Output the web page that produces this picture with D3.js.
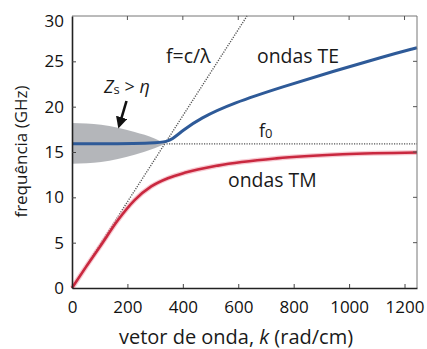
<!DOCTYPE html>
<html>
<head>
<meta charset="utf-8">
<script src="https://cdn.jsdelivr.net/npm/d3@7"></script>
<style>
  body { margin: 0; background: #fff; }
  text { font-family: "Open Sans", sans-serif; fill: #1a1a1a; }
</style>
</head>
<body>
<script>
// data
const xTicks = [0, 200, 400, 600, 800, 1000, 1200];
const yTicks = [0, 5, 10, 15, 20, 25, 30];
const f0 = 15.9;
const lightSlope = 0.0475;   // f = c/lambda, GHz per rad/cm
const teK = [0, 330, 362, 401, 461, 581, 761, 942, 1122, 1245];
const teF = [15.9, 15.9, 16.4, 17.4, 18.7, 20.4, 22.2, 23.9, 25.5, 26.5];
const tmK = [0, 50, 105, 166, 226, 286, 346, 406, 526, 738, 977, 1245];
const tmF = [0, 2.3, 4.75, 7.5, 9.7, 11.2, 12.1, 12.7, 13.5, 14.3, 14.75, 14.95];
const bandK = [0, 105, 226, 298, 338];
const bandHi = [18.2, 18.0, 17.2, 16.5, 15.95];
const bandLo = [13.7, 13.9, 14.7, 15.4, 15.9];

const W = 427, H = 349;
const m = {left: 72, top: 16, right: 10, bottom: 61};
const iw = W - m.left - m.right, ih = H - m.top - m.bottom;

const svg = d3.select("body").append("svg")
    .attr("width", W).attr("height", H);

const x = d3.scaleLinear().domain([0, 1245]).range([m.left, m.left + iw]);
const y = d3.scaleLinear().domain([0, 30]).range([m.top + ih, m.top]);

// gray band where Zs > eta
const band = bandK.map((k, i) => ({k: k, hi: bandHi[i], lo: bandLo[i]}));
svg.append("path")
    .datum(band)
    .attr("d", d3.area().curve(d3.curveMonotoneX)
        .x(d => x(d.k)).y0(d => y(d.lo)).y1(d => y(d.hi)))
    .style("fill", "#a7a9ae")
    .style("opacity", 0.85);

// light line f = c/lambda
const kTop = 30 / lightSlope;
svg.append("line")
    .attr("x1", x(0)).attr("y1", y(0))
    .attr("x2", x(kTop)).attr("y2", y(30))
    .style("stroke", "#555").style("stroke-width", 1.4)
    .style("stroke-dasharray", "1.2,1.3");

// f0 dotted
svg.append("line")
    .attr("x1", x(341)).attr("y1", y(f0))
    .attr("x2", x(1245)).attr("y2", y(f0))
    .style("stroke", "#555").style("stroke-width", 1.4)
    .style("stroke-dasharray", "1.2,1.3");

const line = d3.line().curve(d3.curveMonotoneX)
    .x(d => x(d[0])).y(d => y(d[1]));

// TM (red)
svg.append("path")
    .datum(tmK.map((k, i) => [k, tmF[i]]))
    .attr("d", line)
    .style("fill", "none").style("stroke", "#f2a5b3").style("stroke-width", 5).style("opacity", 0.6);
svg.append("path")
    .datum(tmK.map((k, i) => [k, tmF[i]]))
    .attr("d", line)
    .style("fill", "none").style("stroke", "#c9283f").style("stroke-width", 2.6);

// TE (blue)
svg.append("path")
    .datum(teK.map((k, i) => [k, teF[i]]))
    .attr("d", d3.line().curve(d3.curveBasis).x(d => x(d[0])).y(d => y(d[1])))
    .style("fill", "none").style("stroke", "#2e5a98").style("stroke-width", 3);

// axes frame
const tickLen = 4;
const frame = svg.append("g");
frame.append("line").attr("x1", x(0)).attr("x2", x(1245)).attr("y1", y(30)).attr("y2", y(30))
    .style("stroke", "#777").style("stroke-width", 1);
frame.append("line").attr("x1", x(1245)).attr("x2", x(1245)).attr("y1", y(0)).attr("y2", y(30))
    .style("stroke", "#777").style("stroke-width", 1);

const xAxis = svg.append("g")
    .attr("transform", `translate(0,${y(0)})`)
    .call(d3.axisBottom(x).tickValues(xTicks).tickFormat(d3.format("d"))
        .tickSizeInner(-tickLen).tickSizeOuter(0).tickPadding(13));
const yAxis = svg.append("g")
    .attr("transform", `translate(${x(0)},0)`)
    .call(d3.axisLeft(y).tickValues(yTicks).tickSizeInner(-tickLen).tickSizeOuter(0).tickPadding(8));
[xAxis, yAxis].forEach(g => {
    g.select(".domain").style("stroke", "#222").style("stroke-width", 1.6);
    g.selectAll(".tick line").style("stroke", "#444");
    g.selectAll("text").style("font-size", "17px").style("font-family", "'Open Sans', sans-serif").style("fill", "#111");
});
xAxis.selectAll(".tick").filter(d => d === 0).select("line").remove();
yAxis.selectAll(".tick").filter(d => d === 0 || d === 30).select("line").remove();
yAxis.selectAll(".tick").filter(d => d === 30).select("text").attr("dy", "0.62em");

// mirror ticks on top and right
svg.append("g").selectAll("line").data(xTicks.filter(d => d > 0))
    .join("line")
    .attr("x1", d => x(d)).attr("x2", d => x(d))
    .attr("y1", y(30)).attr("y2", y(30) + tickLen)
    .style("stroke", "#555");
svg.append("g").selectAll("line").data(yTicks.filter(d => d > 0 && d < 30))
    .join("line")
    .attr("x1", x(1245)).attr("x2", x(1245) - tickLen)
    .attr("y1", d => y(d)).attr("y2", d => y(d))
    .style("stroke", "#555");

// axis titles
svg.append("text")
    .attr("transform", `translate(27,${m.top + ih / 2 - 0.5}) rotate(-90)`)
    .attr("text-anchor", "middle")
    .style("font-size", "17px")
    .text("frequência (GHz)");

const xl = svg.append("text")
    .attr("x", 236).attr("y", 344)
    .attr("text-anchor", "middle")
    .style("font-size", "20px");
xl.append("tspan").text("vetor de onda, ");
xl.append("tspan").style("font-style", "italic").text("k");
xl.append("tspan").text(" (rad/cm)");

// annotations
svg.append("text").attr("x", 166).attr("y", 63).style("font-size", "19.5px").text("f=c/λ");
svg.append("text").attr("x", 257).attr("y", 63).style("font-size", "19.4px").text("ondas TE");
svg.append("text").attr("x", 228).attr("y", 187).style("font-size", "19.4px").text("ondas TM");

const f0t = svg.append("text").attr("x", 259).attr("y", 137).style("font-size", "18px");
f0t.append("tspan").text("f");
f0t.append("tspan").attr("dy", 1).style("font-size", "13px").text("0");

const zs = svg.append("text").attr("x", 104).attr("y", 93).style("font-size", "18px");
zs.append("tspan").style("font-style", "italic").text("Z");
zs.append("tspan").attr("dy", 1).style("font-size", "13px").text("s");
zs.append("tspan").attr("dy", -1).text(" > ");
zs.append("tspan").style("font-style", "italic").text("η");

// arrow
svg.append("defs").append("marker")
    .attr("id", "head").attr("viewBox", "0 0 10 10")
    .attr("refX", 5).attr("refY", 5)
    .attr("markerWidth", 4.5).attr("markerHeight", 4.5)
    .attr("orient", "auto")
    .append("path").attr("d", "M0,0 L10,5 L0,10 Z").style("fill", "#111");
svg.append("line")
    .attr("x1", 126.5).attr("y1", 101).attr("x2", 120).attr("y2", 123)
    .style("stroke", "#111").style("stroke-width", 2.6)
    .attr("marker-end", "url(#head)");
</script>
</body>
</html>
